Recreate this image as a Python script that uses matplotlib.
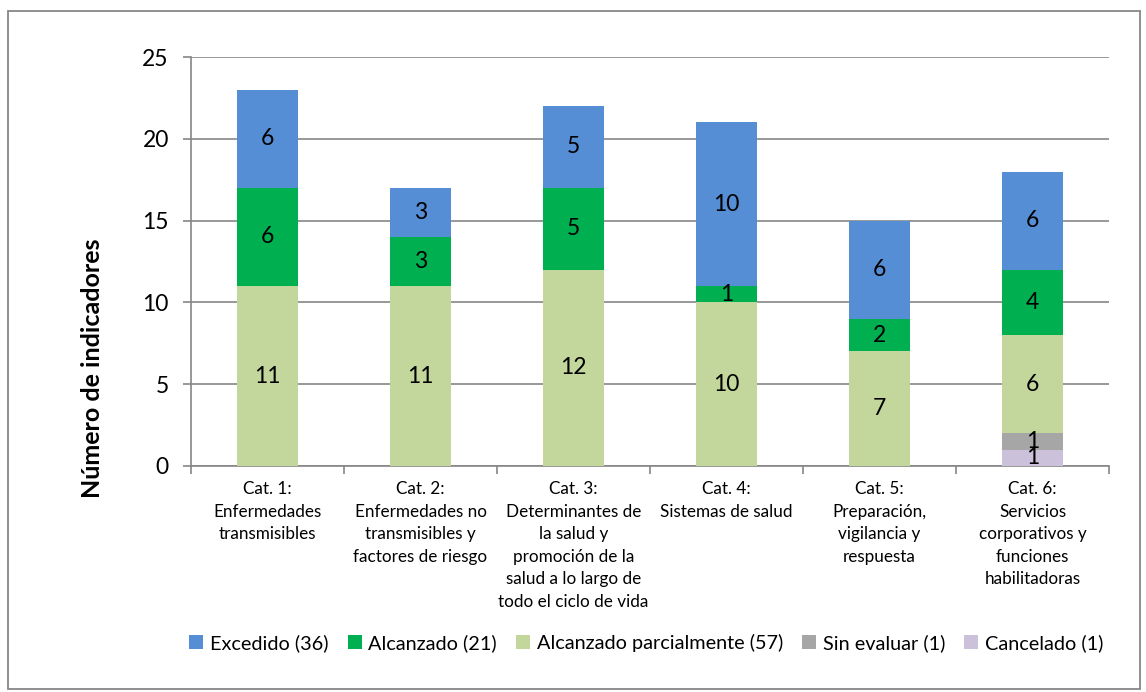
import matplotlib; matplotlib.use("Agg")
import matplotlib.pyplot as plt
import numpy as np
from matplotlib.patches import Rectangle

plt.rcParams['font.family'] = ['Lato', 'DejaVu Sans']

categories = [
    "Cat. 1:\nEnfermedades\ntransmisibles",
    "Cat. 2:\nEnfermedades no\ntransmisibles y\nfactores de riesgo",
    "Cat. 3:\nDeterminantes de\nla salud y\npromoción de la\nsalud a lo largo de\ntodo el ciclo de vida",
    "Cat. 4:\nSistemas de salud",
    "Cat. 5:\nPreparación,\nvigilancia y\nrespuesta",
    "Cat. 6:\nServicios\ncorporativos y\nfunciones\nhabilitadoras",
]
cancelado = [0, 0, 0, 0, 0, 1]
sin_evaluar = [0, 0, 0, 0, 0, 1]
parcial = [11, 11, 12, 10, 7, 6]
alcanzado = [6, 3, 5, 1, 2, 4]
excedido = [6, 3, 5, 10, 6, 6]

series = [
    ("Cancelado (1)", cancelado, "#CCC1DA"),
    ("Sin evaluar (1)", sin_evaluar, "#A6A6A6"),
    ("Alcanzado parcialmente (57)", parcial, "#C3D69B"),
    ("Alcanzado (21)", alcanzado, "#00B050"),
    ("Excedido (36)", excedido, "#558ED5"),
]

fig = plt.figure(figsize=(11.46, 6.92), dpi=100)
# outer chart border
fig.patches.append(Rectangle((0.007, 0.004), 0.988, 0.98, transform=fig.transFigure,
                             fill=False, edgecolor='#878787', linewidth=1.3))
ax = fig.add_axes([0.1667, 0.3266, 0.801, 0.591])

x = np.arange(len(categories))
bottom = np.zeros(len(categories))
handles = {}
for name, vals, color in series:
    vals = np.array(vals)
    bars = ax.bar(x, vals, 0.4, bottom=bottom, color=color, zorder=3)
    handles[name] = bars
    for xi, v, b in zip(x, vals, bottom):
        if v > 0:
            ax.text(xi, b + v / 2, str(v), ha='center', va='center', fontsize=16.5, zorder=4)
    bottom += vals

ax.set_xlim(-0.5, len(categories) - 0.5)
ax.set_ylim(0, 25)
ax.set_yticks(range(0, 26, 5))
ax.yaxis.grid(True, color='#868686', linewidth=1.2, zorder=0)
ax.tick_params(axis='y', labelsize=16.5, length=6, color='#868686', width=1.2, pad=10)

ax.set_xticks(np.arange(-0.5, len(categories), 1))
ax.set_xticklabels([])
ax.set_xticks(x, minor=True)
ax.set_xticklabels(categories, minor=True, fontsize=12.3, linespacing=1.5, va='top')
ax.tick_params(axis='x', which='major', length=6, color='#868686', width=1.2)
ax.tick_params(axis='x', which='minor', length=0, pad=11)

for s in ['top', 'right']:
    ax.spines[s].set_visible(False)
for s in ['left', 'bottom']:
    ax.spines[s].set_color('#868686')
    ax.spines[s].set_linewidth(1.2)

fig.text(93 / 1146, 1 - 368 / 692, "Número de indicadores", rotation=90,
         ha='center', va='center', fontsize=18, fontweight='bold')

order = ["Excedido (36)", "Alcanzado (21)", "Alcanzado parcialmente (57)",
         "Sin evaluar (1)", "Cancelado (1)"]
fig.legend([handles[o] for o in order], order, loc='center', bbox_to_anchor=(0.564, 0.071),
           ncol=5, frameon=False, fontsize=14.3, handlelength=0.7, handleheight=0.7,
           handletextpad=0.35, columnspacing=0.95)

plt.savefig("out.png", dpi=100)
